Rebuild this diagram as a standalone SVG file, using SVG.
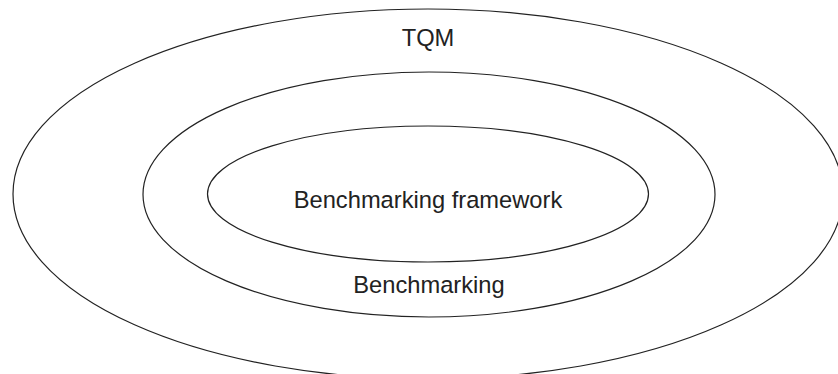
<svg xmlns="http://www.w3.org/2000/svg" width="838" height="374" viewBox="0 0 838 374">
<style>
.ring{fill:none;stroke:#222;stroke-width:1.2}
.lbl{font-family:"Liberation Sans",Arial,sans-serif;font-size:23.7px;fill:#222;text-anchor:middle}
</style>
<rect width="838" height="374" fill="#fff"/>
<g id="tqm">
<ellipse class="ring" cx="428" cy="194" rx="415" ry="185"/>
<text class="lbl" x="428" y="46">TQM</text>
</g>
<g id="benchmarking">
<ellipse class="ring" cx="429" cy="194.5" rx="286" ry="122.5"/>
<text class="lbl" x="429" y="293">Benchmarking</text>
</g>
<g id="framework">
<ellipse class="ring" cx="428" cy="194" rx="220.5" ry="68"/>
<text class="lbl" x="428" y="208">Benchmarking framework</text>
</g>
<g id="connectors"></g>
</svg>
